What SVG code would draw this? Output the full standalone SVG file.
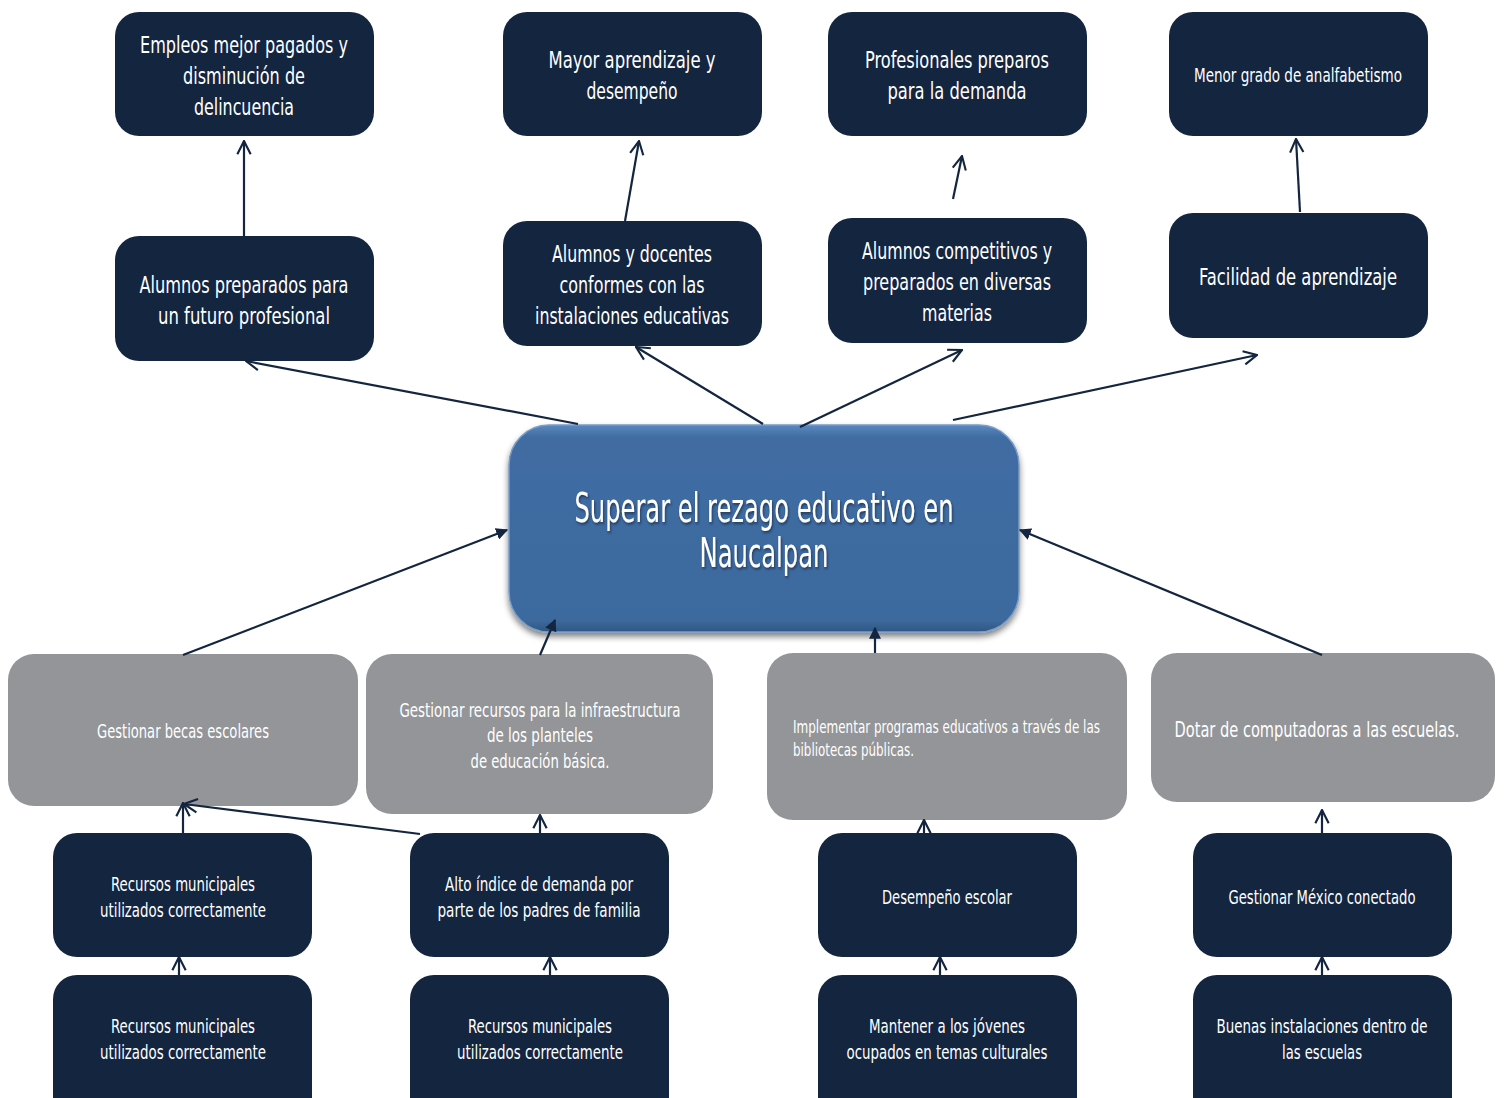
<svg xmlns="http://www.w3.org/2000/svg" width="1504" height="1098" viewBox="0 0 1504 1098">
<style>
.dk{fill:#13253f}
.gr{fill:#939598}
text{font-family:"Liberation Sans Narrow","DejaVu Sans Condensed","Roboto",sans-serif;fill:#ffffff;text-anchor:middle}
.t23{font-size:23px}
.t22{font-size:22px}
.t20{font-size:20px}
.t19{font-size:19px}
.t18{font-size:18px}
.t40{font-size:40px}
.ln{stroke:#13253f;stroke-width:2.2;fill:none}
</style>
<defs>
<marker id="open" viewBox="0 0 12 12" refX="11" refY="6" markerWidth="16" markerHeight="16" markerUnits="userSpaceOnUse" orient="auto">
<path d="M1,1 L11,6 L1,11" fill="none" stroke="#13253f" stroke-width="1.6"/>
</marker>
<marker id="fill" viewBox="0 0 10 10" refX="9" refY="5" markerWidth="12" markerHeight="12" markerUnits="userSpaceOnUse" orient="auto">
<path d="M0,0 L10,5 L0,10 z" fill="#13253f"/>
</marker>
<linearGradient id="cg" x1="0" y1="0" x2="0" y2="1">
<stop offset="0" stop-color="#5b88bf"/>
<stop offset="0.06" stop-color="#3f6ca1"/>
<stop offset="0.94" stop-color="#3e6a9e"/>
<stop offset="1" stop-color="#2f5683"/>
</linearGradient>
<filter id="sh" x="-10%" y="-10%" width="120%" height="130%">
<feGaussianBlur in="SourceAlpha" stdDeviation="3"/>
<feOffset dx="0" dy="4"/>
<feComponentTransfer><feFuncA type="linear" slope="0.5"/></feComponentTransfer>
<feMerge><feMergeNode/><feMergeNode in="SourceGraphic"/></feMerge>
</filter>
<filter id="tsh" x="-5%" y="-20%" width="110%" height="140%">
<feDropShadow dx="1" dy="2" stdDeviation="1" flood-color="#0a1a30" flood-opacity="0.6"/>
</filter>
</defs>
<rect width="1504" height="1098" fill="#ffffff"/>

<g id="n1"><rect class="dk" x="115" y="12" width="259" height="124" rx="24"/>
<text class="t23" x="244" y="53" textLength="208" lengthAdjust="spacingAndGlyphs">Empleos mejor pagados y</text>
<text class="t23" x="244" y="84" textLength="122" lengthAdjust="spacingAndGlyphs">disminución de</text>
<text class="t23" x="244" y="115" textLength="100" lengthAdjust="spacingAndGlyphs">delincuencia</text></g>

<g id="n2"><rect class="dk" x="503" y="12" width="259" height="124" rx="24"/>
<text class="t23" x="632" y="68" textLength="167" lengthAdjust="spacingAndGlyphs">Mayor aprendizaje y</text>
<text class="t23" x="632" y="99" textLength="91" lengthAdjust="spacingAndGlyphs">desempeño</text></g>

<g id="n3"><rect class="dk" x="828" y="12" width="259" height="124" rx="24"/>
<text class="t23" x="957" y="68" textLength="184" lengthAdjust="spacingAndGlyphs">Profesionales preparos</text>
<text class="t23" x="957" y="99" textLength="139" lengthAdjust="spacingAndGlyphs">para la demanda</text></g>

<g id="n4"><rect class="dk" x="1169" y="12" width="259" height="124" rx="24"/>
<text class="t19" x="1298" y="82" textLength="208" lengthAdjust="spacingAndGlyphs">Menor grado de analfabetismo</text></g>

<g id="n5"><rect class="dk" x="115" y="236" width="259" height="125" rx="24"/>
<text class="t23" x="244" y="293" textLength="209" lengthAdjust="spacingAndGlyphs">Alumnos preparados para</text>
<text class="t23" x="244" y="324" textLength="172" lengthAdjust="spacingAndGlyphs">un futuro profesional</text></g>

<g id="n6"><rect class="dk" x="503" y="221" width="259" height="125" rx="24"/>
<text class="t23" x="632" y="262" textLength="160" lengthAdjust="spacingAndGlyphs">Alumnos y docentes</text>
<text class="t23" x="632" y="293" textLength="145" lengthAdjust="spacingAndGlyphs">conformes con las</text>
<text class="t23" x="632" y="324" textLength="194" lengthAdjust="spacingAndGlyphs">instalaciones educativas</text></g>

<g id="n7"><rect class="dk" x="828" y="218" width="259" height="125" rx="24"/>
<text class="t23" x="957" y="259" textLength="190" lengthAdjust="spacingAndGlyphs">Alumnos competitivos y</text>
<text class="t23" x="957" y="290" textLength="188" lengthAdjust="spacingAndGlyphs">preparados en diversas</text>
<text class="t23" x="957" y="321" textLength="70" lengthAdjust="spacingAndGlyphs">materias</text></g>

<g id="n8"><rect class="dk" x="1169" y="213" width="259" height="125" rx="24"/>
<text class="t23" x="1298" y="285" textLength="198" lengthAdjust="spacingAndGlyphs">Facilidad de aprendizaje</text></g>

<g id="center"><rect x="509" y="425" width="510" height="207" rx="40" fill="url(#cg)" stroke="#7a9cc8" stroke-width="1.5" filter="url(#sh)"/>
<g filter="url(#tsh)">
<text class="t40" x="764" y="522" textLength="379" lengthAdjust="spacingAndGlyphs">Superar el rezago educativo en</text>
<text class="t40" x="764" y="567" textLength="129" lengthAdjust="spacingAndGlyphs">Naucalpan</text></g></g>

<g id="g1"><rect class="gr" x="8" y="654" width="350" height="152" rx="26"/>
<text class="t20" x="183" y="738" textLength="172" lengthAdjust="spacingAndGlyphs">Gestionar becas escolares</text></g>

<g id="g2"><rect class="gr" x="366" y="654" width="347" height="160" rx="26"/>
<text class="t20" x="540" y="717" textLength="281" lengthAdjust="spacingAndGlyphs">Gestionar recursos para la infraestructura</text>
<text class="t20" x="540" y="742" textLength="106" lengthAdjust="spacingAndGlyphs">de los planteles</text>
<text class="t20" x="540" y="768" textLength="139" lengthAdjust="spacingAndGlyphs">de educación básica.</text></g>

<g id="g3"><rect class="gr" x="767" y="653" width="360" height="167" rx="26"/>
<text class="t18" x="793" y="733" style="text-anchor:start" textLength="307" lengthAdjust="spacingAndGlyphs">Implementar programas educativos a través de las</text>
<text class="t18" x="793" y="756" style="text-anchor:start" textLength="121" lengthAdjust="spacingAndGlyphs">bibliotecas públicas.</text></g>

<g id="g4"><rect class="gr" x="1151" y="653" width="344" height="149" rx="26"/>
<g transform="translate(1317,737) scale(0.68,1)">
<text class="t22" x="0" y="0" textLength="419" lengthAdjust="spacingAndGlyphs">Dotar de computadoras a las escuelas.</text></g></g>

<g id="b1"><rect class="dk" x="53" y="833" width="259" height="124" rx="24"/>
<text class="t20" x="183" y="891" textLength="144" lengthAdjust="spacingAndGlyphs">Recursos municipales</text>
<text class="t20" x="183" y="917" textLength="166" lengthAdjust="spacingAndGlyphs">utilizados correctamente</text></g>

<g id="b2"><rect class="dk" x="410" y="833" width="259" height="124" rx="24"/>
<text class="t20" x="539" y="891" textLength="188" lengthAdjust="spacingAndGlyphs">Alto índice de demanda por</text>
<text class="t20" x="539" y="917" textLength="203" lengthAdjust="spacingAndGlyphs">parte de los padres de familia</text></g>

<g id="b3"><rect class="dk" x="818" y="833" width="259" height="124" rx="24"/>
<text class="t20" x="947" y="904" textLength="130" lengthAdjust="spacingAndGlyphs">Desempeño escolar</text></g>

<g id="b4"><rect class="dk" x="1193" y="833" width="259" height="124" rx="24"/>
<text class="t20" x="1322" y="904" textLength="187" lengthAdjust="spacingAndGlyphs">Gestionar México conectado</text></g>

<g id="c1"><rect class="dk" x="53" y="975" width="259" height="150" rx="24"/>
<text class="t20" x="183" y="1033" textLength="144" lengthAdjust="spacingAndGlyphs">Recursos municipales</text>
<text class="t20" x="183" y="1059" textLength="166" lengthAdjust="spacingAndGlyphs">utilizados correctamente</text></g>

<g id="c2"><rect class="dk" x="410" y="975" width="259" height="150" rx="24"/>
<text class="t20" x="540" y="1033" textLength="144" lengthAdjust="spacingAndGlyphs">Recursos municipales</text>
<text class="t20" x="540" y="1059" textLength="166" lengthAdjust="spacingAndGlyphs">utilizados correctamente</text></g>

<g id="c3"><rect class="dk" x="818" y="975" width="259" height="150" rx="24"/>
<text class="t20" x="947" y="1033" textLength="156" lengthAdjust="spacingAndGlyphs">Mantener a los jóvenes</text>
<text class="t20" x="947" y="1059" textLength="201" lengthAdjust="spacingAndGlyphs">ocupados en temas culturales</text></g>

<g id="c4"><rect class="dk" x="1193" y="975" width="259" height="150" rx="24"/>
<text class="t20" x="1322" y="1033" textLength="211" lengthAdjust="spacingAndGlyphs">Buenas instalaciones dentro de</text>
<text class="t20" x="1322" y="1059" textLength="80" lengthAdjust="spacingAndGlyphs">las escuelas</text></g>

<g id="connectors">
<line class="ln" x1="244" y1="236" x2="244" y2="141" marker-end="url(#open)"/>
<line class="ln" x1="625" y1="221" x2="639" y2="141" marker-end="url(#open)"/>
<line class="ln" x1="953" y1="199" x2="962" y2="156" marker-end="url(#open)"/>
<line class="ln" x1="1300" y1="212" x2="1296" y2="139" marker-end="url(#open)"/>
<line class="ln" x1="578" y1="424" x2="246" y2="361" marker-end="url(#open)"/>
<line class="ln" x1="763" y1="424" x2="636" y2="347" marker-end="url(#open)"/>
<line class="ln" x1="800" y1="427" x2="962" y2="350" marker-end="url(#open)"/>
<line class="ln" x1="953" y1="420" x2="1257" y2="355" marker-end="url(#open)"/>
<line class="ln" x1="183" y1="655" x2="507" y2="530" marker-end="url(#fill)"/>
<line class="ln" x1="540" y1="655" x2="555" y2="620" marker-end="url(#fill)"/>
<line class="ln" x1="875" y1="653" x2="875" y2="628" marker-end="url(#fill)"/>
<line class="ln" x1="1322" y1="655" x2="1020" y2="530" marker-end="url(#fill)"/>
<line class="ln" x1="183" y1="833" x2="183" y2="803" marker-end="url(#open)"/>
<line class="ln" x1="420" y1="834" x2="184" y2="804" marker-end="url(#open)"/>
<line class="ln" x1="540" y1="833" x2="540" y2="815" marker-end="url(#open)"/>
<line class="ln" x1="924" y1="833" x2="924" y2="820" marker-end="url(#open)"/>
<line class="ln" x1="1322" y1="833" x2="1322" y2="810" marker-end="url(#open)"/>
<line class="ln" x1="179" y1="975" x2="179" y2="957" marker-end="url(#open)"/>
<line class="ln" x1="550" y1="975" x2="550" y2="957" marker-end="url(#open)"/>
<line class="ln" x1="940" y1="975" x2="940" y2="957" marker-end="url(#open)"/>
<line class="ln" x1="1322" y1="975" x2="1322" y2="957" marker-end="url(#open)"/>
</g>
</svg>
